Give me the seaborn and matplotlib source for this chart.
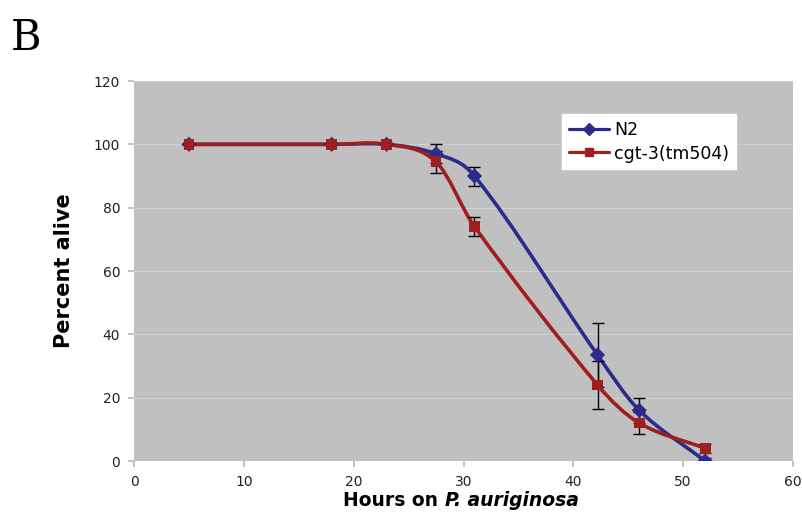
import numpy as np
import pandas as pd
import matplotlib
matplotlib.use("Agg")
import matplotlib.pyplot as plt
from matplotlib.path import Path
from matplotlib.patches import PathPatch
from matplotlib.lines import Line2D
from matplotlib.offsetbox import TextArea, HPacker, AnchoredOffsetbox
import seaborn as sns

hours = [5, 18, 23, 27.5, 31, 42.2, 46, 52]
n2 = [100, 100, 100, 97, 90, 33.5, 16, 0]
n2_err = [0, 0, 0, 3, 3, 10, 4, 1]
cgt = [100, 100, 100, 94.5, 74, 24, 12, 4]
cgt_err = [0, 0, 0, 3.5, 3, 7.5, 3.5, 1.5]
series_names = ["N2", "cgt-3(tm504)"]
colors = ["#2B2B8C", "#A11E1E"]
markers = ["D", "s"]
xticks = [0, 10, 20, 30, 40, 50, 60]
yticks = [0, 20, 40, 60, 80, 100, 120]

sns.set_theme(style="white")
plt.rcParams['font.family'] = ['DejaVu Sans']

df = pd.DataFrame({
    "hours": hours * 2,
    "alive": n2 + cgt,
    "err": n2_err + cgt_err,
    "strain": [series_names[0]] * len(hours) + [series_names[1]] * len(hours),
})

fig = plt.figure(figsize=(8.02, 5.25), dpi=100)
ax = fig.add_axes([0.1671, 0.1219, 0.8217, 0.7238])
ax.set_facecolor("#C0C0C0")


def smooth_path(xs, ys):
    xs = np.asarray(xs, float)
    ys = np.asarray(ys, float)
    n = len(xs)
    slopes = np.zeros(n)
    for i in range(n):
        a = max(i - 1, 0)
        b = min(i + 1, n - 1)
        slopes[i] = (ys[b] - ys[a]) / (xs[b] - xs[a])
    verts = [(xs[0], ys[0])]
    codes = [Path.MOVETO]
    for i in range(n - 1):
        h = xs[i + 1] - xs[i]
        c1 = (xs[i] + h / 3, ys[i] + slopes[i] * h / 3)
        c2 = (xs[i + 1] - h / 3, ys[i + 1] - slopes[i + 1] * h / 3)
        verts += [c1, c2, (xs[i + 1], ys[i + 1])]
        codes += [Path.CURVE4] * 3
    return Path(verts, codes)


for name, col in zip(series_names, colors):
    sub = df[df.strain == name]
    ax.add_patch(PathPatch(smooth_path(sub.hours.values, sub.alive.values),
                           fill=False, edgecolor=col, lw=2.6, zorder=3))

for name in series_names:
    sub = df[df.strain == name]
    e = sub.err.values
    mask = e > 0
    ax.errorbar(sub.hours.values[mask], sub.alive.values[mask], yerr=e[mask],
                fmt="none", ecolor="black", elinewidth=1.0, capsize=4,
                capthick=1.0, zorder=4)

sns.scatterplot(data=df, x="hours", y="alive", hue="strain", style="strain",
                palette=dict(zip(series_names, colors)),
                markers=dict(zip(series_names, markers)),
                s=60, edgecolor="none", legend=False, ax=ax, zorder=5)

ax.set_xlim(0, 60)
ax.set_ylim(0, 120)
ax.set_xticks(xticks)
ax.set_yticks(yticks)
ax.set_xticklabels([str(t) for t in xticks], fontsize=10, color="#222222")
ax.set_yticklabels([str(t) for t in yticks], fontsize=10, color="#222222")
ax.yaxis.grid(True, color="#D2D2D2", lw=0.8)
ax.set_axisbelow(True)
for s in ax.spines.values():
    s.set_visible(False)
ax.tick_params(axis="both", which="both", length=4, color="#BBBBBB",
               direction="out", bottom=True, left=True, pad=6)

ax.set_ylabel("Percent alive", fontsize=15, fontweight="bold", labelpad=14,
              color="black")
ax.set_xlabel("")

t1 = TextArea("Hours on ", textprops=dict(fontsize=13.5, fontweight="bold",
                                          color="black"))
t2 = TextArea("P. auriginosa", textprops=dict(fontsize=13.5, fontweight="bold",
                                              fontstyle="italic", color="black"))
box = HPacker(children=[t1, t2], align="baseline", pad=0, sep=0)
anch = AnchoredOffsetbox(loc="center", child=box, pad=0, frameon=False,
                         bbox_to_anchor=(461 / 802, 1 - 500 / 525),
                         bbox_transform=fig.transFigure, borderpad=0)
fig.add_artist(anch)

handles = [Line2D([0], [0], color=c, lw=2.3, marker=m, markersize=6)
           for c, m in zip(colors, markers)]
leg = ax.legend(handles, series_names, loc="upper left",
                bbox_to_anchor=(0.636, 0.935), fontsize=12.5, frameon=True,
                fancybox=False, framealpha=1, edgecolor="white",
                handlelength=2.3, handletextpad=0.3, borderpad=0.4,
                labelspacing=0.3)
leg.get_frame().set_facecolor("white")
for t in leg.get_texts():
    t.set_color("black")

fig.text(0.013, 0.905, "B", fontsize=30, family="DejaVu Serif", color="black")

fig.savefig("out.png", dpi=100)
